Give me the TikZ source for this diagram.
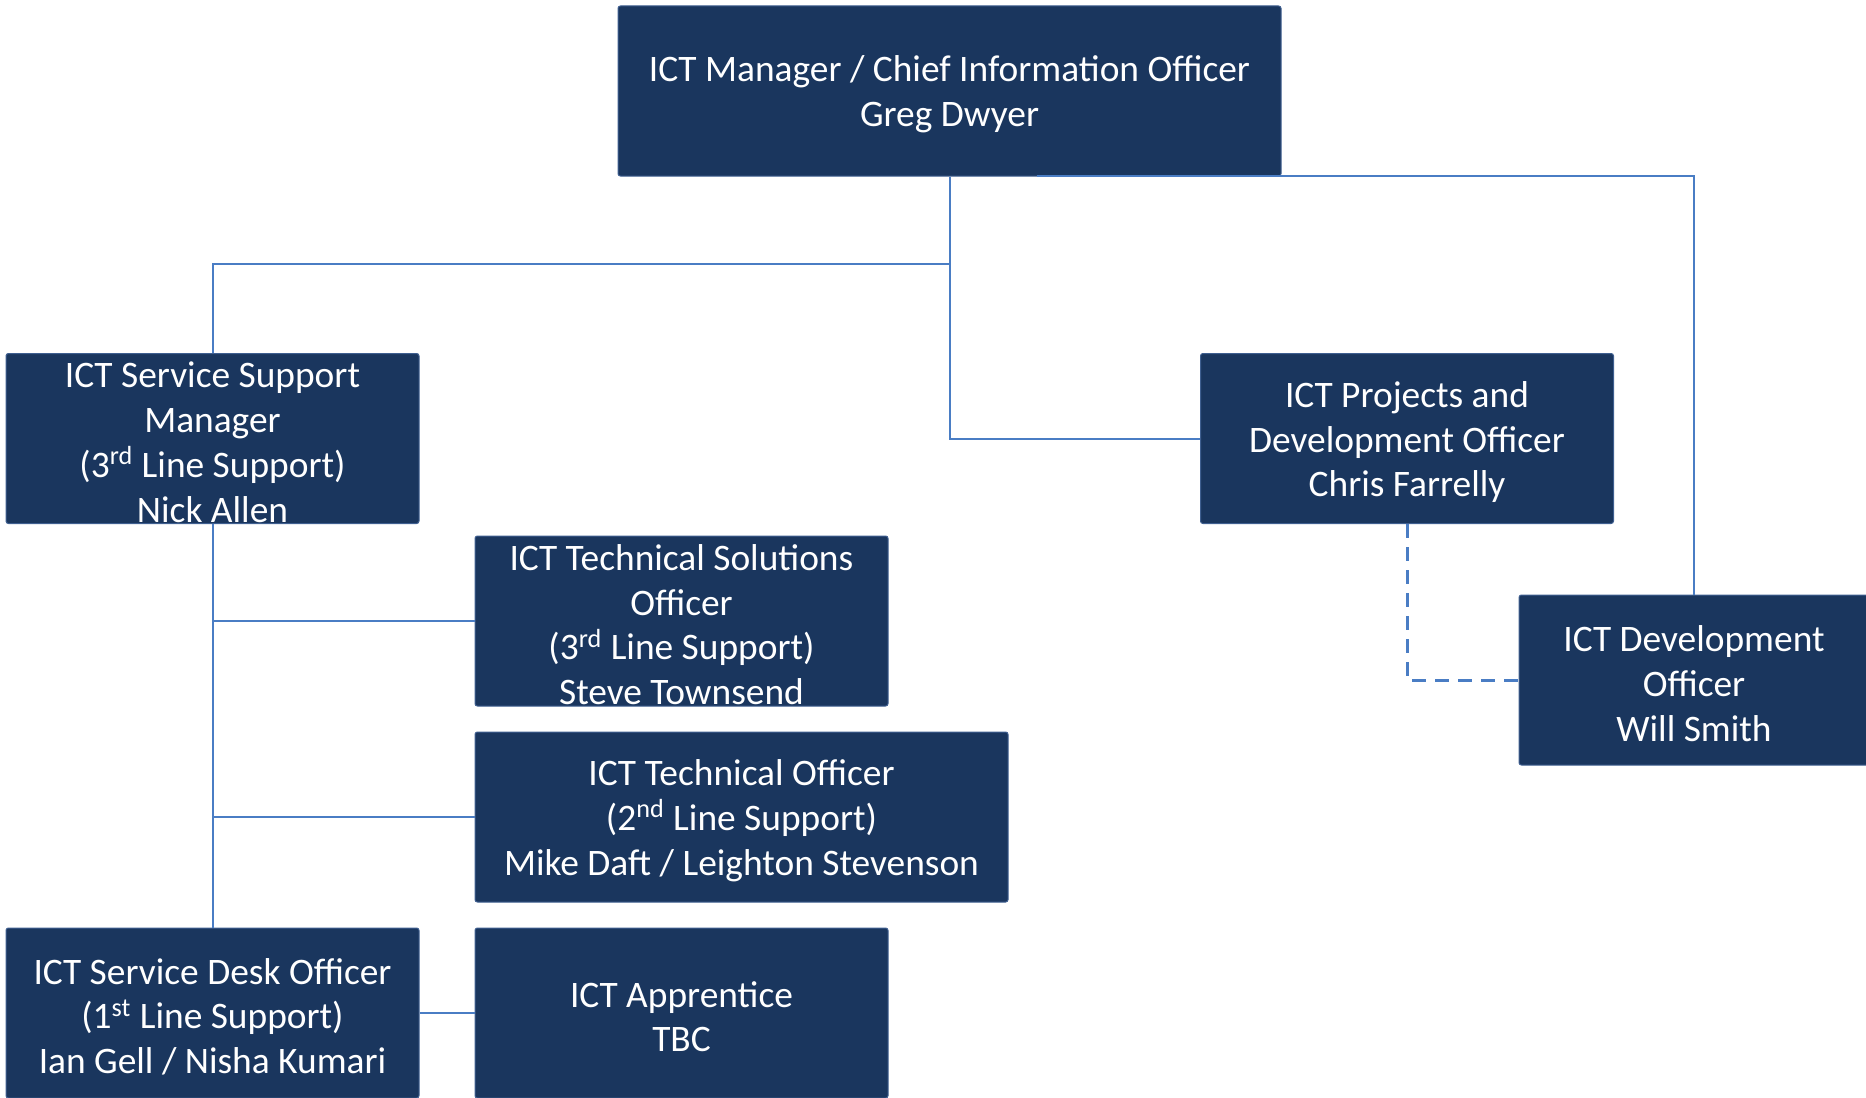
\documentclass[tikz,border=0pt]{standalone}
\usepackage{fontspec}
\setmainfont{Carlito}
\definecolor{boxfill}{HTML}{1A365E}
\definecolor{boxedge}{HTML}{3F5F90}
\definecolor{conncol}{HTML}{4A7DC4}
\begin{document}
\begin{tikzpicture}[x=0.5pt,y=-0.5pt,
  box/.style={rectangle, rounded corners=1.2pt, fill=boxfill, draw=boxedge, line width=0.5pt,
    inner sep=0pt, minimum height=85pt, minimum width=206.5pt},
  txt/.style={text=white, align=center, inner sep=0pt, yshift=-1.8pt,
    font=\fontsize{18.7}{22.4}\selectfont},
  conn/.style={draw=conncol, line width=1pt},
  dconn/.style={draw=conncol, line width=1.5pt, dash pattern=on 7pt off 4.5pt}]
\useasboundingbox (0,0) rectangle (1866,1097);
\clip (0,0) rectangle (1866,1097);

\node[box, minimum width=331.5pt, label={[txt]center:{ICT Manager / Chief Information Officer\\Greg Dwyer}}] (top) at (949.5,91) {};
\node[box, label={[txt]center:{ICT Service Support\\Manager\\(3\textsuperscript{rd} Line Support)\\Nick Allen}}] (ssm) at (212.5,438.5) {};
\node[box, label={[txt]center:{ICT Projects and\\Development Officer\\Chris Farrelly}}] (proj) at (1407,438.5) {};
\node[box, minimum width=175pt, label={[txt]center:{ICT Development\\Officer\\Will Smith}}] (dev) at (1694,680) {};
\node[box, label={[txt]center:{ICT Technical Solutions\\Officer\\(3\textsuperscript{rd} Line Support)\\Steve Townsend}}] (sol) at (681.5,621) {};
\node[box, minimum width=266.5pt, label={[txt]center:{ICT Technical Officer\\(2\textsuperscript{nd} Line Support)\\Mike Daft / Leighton Stevenson}}] (tech) at (741.5,817) {};
\node[box, label={[txt]center:{ICT Service Desk Officer\\(1\textsuperscript{st} Line Support)\\Ian Gell / Nisha Kumari}}] (desk) at (212.5,1013) {};
\node[box, label={[txt]center:{ICT Apprentice\\TBC}}] (app) at (681.5,1013) {};

\coordinate (j1) at (949.5,264);
\coordinate (r0) at (1036.5,175.5);
\draw[conn] (top.south) -- (j1) -| (ssm.north);
\draw[conn] (j1) |- (proj.west);
\draw[conn] (r0) -| (dev.north);
\draw[dconn] (proj.south) |- (dev.west);
\draw[conn] (ssm.south) -- (desk.north);
\draw[conn] (ssm.south |- sol.west) -- (sol.west);
\draw[conn] (ssm.south |- tech.west) -- (tech.west);
\draw[conn] (desk.east) -- (app.west);
\end{tikzpicture}
\end{document}
